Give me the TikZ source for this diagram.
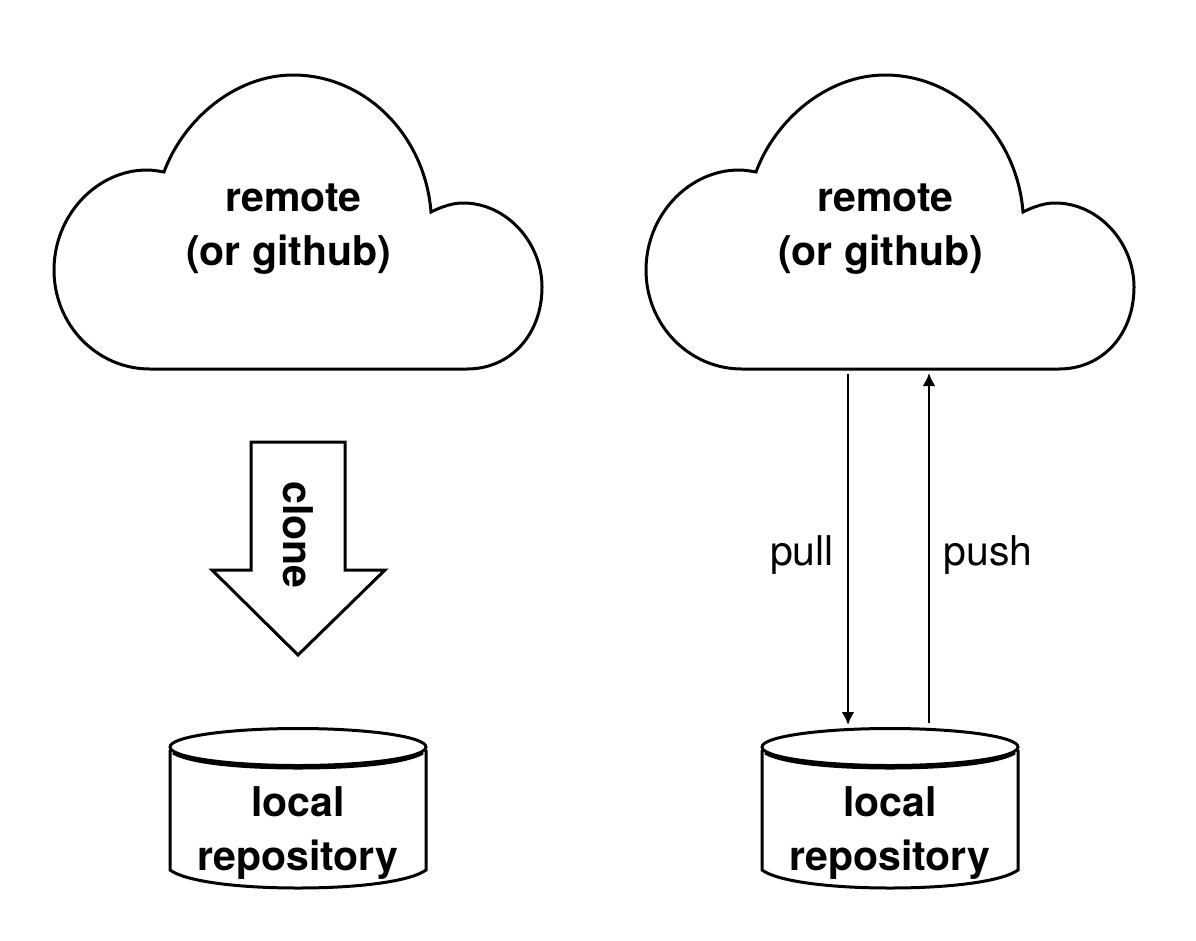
\documentclass[tikz,border=0pt]{standalone}
\usepackage{fontspec}
\setmainfont{TeX Gyre Heros}
\usetikzlibrary{arrows.meta}
\tikzset{
  x=1pt,y=-1pt,
  shapeline/.style={draw=black,line width=3pt,fill=white,line join=miter},
  conn/.style={draw=black,line width=2.8pt,-{Latex[length=13pt,width=13pt]}},
  lbl/.style={align=center,font=\fontsize{41}{54}\selectfont\bfseries,inner sep=0pt},
  plainlbl/.style={align=center,font=\fontsize{41}{46}\selectfont,inner sep=0pt},
  cloudshape/.pic={
    \path[shapeline] (150,369) .. controls (97,369) and (54,325) .. (54,270)
      .. controls (54,215) and (97,170) .. (147,170)
      .. controls (153,170) and (158,171) .. (164,172)
      .. controls (183,120) and (235,75) .. (293,75)
      .. controls (365,75) and (425,135) .. (431,212)
      .. controls (441,207) and (452,203) .. (463,203)
      .. controls (507,203) and (542,243) .. (542,287)
      .. controls (542,335) and (510,369) .. (467,369) -- cycle;
  },
  cylshape/.pic={
    \path[shapeline] (170,750) -- (170,870) .. controls (185,881) and (235,888) .. (298,888)
      .. controls (361,888) and (411,881) .. (426,870) -- (426,750);
    \path[shapeline] (298,747) ellipse [x radius=128,y radius=18.5];
    \draw[black,line width=3pt] (173,753) .. controls (190,763) and (240,768) .. (298,768)
      .. controls (356,768) and (406,763) .. (423,753);
  },
}
\begin{document}
\begin{tikzpicture}
\useasboundingbox (0,0) rectangle (1196,940);
\fill[white] (0,0) rectangle (1196,940);
\pic {cloudshape};
\pic at (592,0) {cloudshape};
\pic {cylshape};
\pic at (592,0) {cylshape};
\path[shapeline] (251,442) -- (345,442) -- (345,570) -- (385,570) -- (298,655) -- (212,570) -- (251,570) -- cycle;
\node[lbl] (rem1) at (291,229) {\hspace*{5pt}remote\\(or github)\hspace*{5pt}};
\node[lbl] (rem2) at (883,229) {\hspace*{5pt}remote\\(or github)\hspace*{5pt}};
\node[lbl] (loc1) at (298,833) {local\\repository};
\node[lbl] (loc2) at (890,833) {local\\repository};
\node[lbl,rotate=-90] (clone) at (298,535) {clone};
\coordinate (cloudA) at (848,374);
\coordinate (cylA) at (848,725);
\coordinate (cylB) at (929,723);
\coordinate (cloudB) at (929,373);
\draw[conn] (cloudA) -- (cylA);
\draw[conn] (cylB) -- (cloudB);
\node[plainlbl] (pull) at (802,555) {pull};
\node[plainlbl] (push) at (988,555) {push};
\end{tikzpicture}
\end{document}
